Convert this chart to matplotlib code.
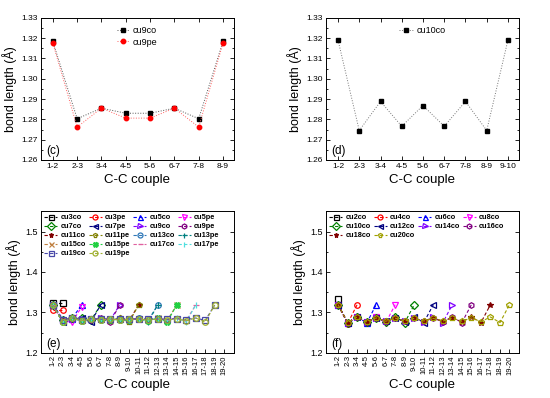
import numpy as np
import matplotlib
matplotlib.use("Agg")
import matplotlib.pyplot as plt
from matplotlib.ticker import MultipleLocator, FormatStrFormatter

plt.rcParams['font.family'] = ['Liberation Sans', 'DejaVu Sans']

# ---------------- data ----------------
# panel (c): cu9 chain, 8 bonds
couples_c = ["1-2", "2-3", "3-4", "4-5", "5-6", "6-7", "7-8", "8-9"]
cu9co_c = [1.3183, 1.2803, 1.2855, 1.2830, 1.2830, 1.2855, 1.2803, 1.3183]
cu9pe_c = [1.3175, 1.2762, 1.2855, 1.2806, 1.2806, 1.2855, 1.2762, 1.3175]

# panel (d): cu10co, 9 bonds
couples_d = ["1-2", "2-3", "3-4", "4-5", "5-6", "6-7", "7-8", "8-9", "9-10"]
cu10co_d = [1.3190, 1.2745, 1.2888, 1.2766, 1.2868, 1.2766, 1.2888, 1.2745, 1.3190]

# panels (e) and (f): all chains
couples_ef = ["1-2", "2-3", "3-4", "4-5", "5-6", "6-7", "7-8", "8-9", "9-10",
              "10-11", "11-12", "12-13", "13-14", "14-15", "15-16", "16-17",
              "17-18", "18-19", "19-20"]

cu3co = [1.322, 1.322]
cu3pe = [1.306, 1.306]
cu5co = [1.319, 1.284, 1.284, 1.319]
cu5pe = [1.316, 1.278, 1.276, 1.313]
cu7co = [1.318, 1.281, 1.285, 1.285, 1.281, 1.318]
cu7pe = [1.318, 1.277, 1.285, 1.285, 1.277, 1.318]
cu9co = [1.3183, 1.2803, 1.2855, 1.2830, 1.2830, 1.2855, 1.2803, 1.3183]
cu9pe = [1.3175, 1.2762, 1.2855, 1.2806, 1.2806, 1.2855, 1.2762, 1.3175]
cu11co = [1.318, 1.280, 1.286, 1.282, 1.284, 1.284, 1.282, 1.286, 1.280, 1.318]
cu11pe = [1.318, 1.276, 1.286, 1.279, 1.283, 1.283, 1.279, 1.286, 1.276, 1.318]
cu13co = [1.318, 1.280, 1.286, 1.282, 1.284, 1.283, 1.283, 1.284, 1.282, 1.286,
          1.280, 1.318]
cu13pe = [1.318, 1.276, 1.286, 1.279, 1.284, 1.281, 1.281, 1.284, 1.279, 1.286,
          1.276, 1.318]
cu15co = [1.318, 1.280, 1.286, 1.282, 1.284, 1.283, 1.2835, 1.2835, 1.283, 1.284,
          1.282, 1.286, 1.280, 1.318]
cu15pe = [1.318, 1.276, 1.286, 1.279, 1.284, 1.281, 1.282, 1.282, 1.281, 1.284,
          1.279, 1.286, 1.276, 1.318]
cu17co = [1.318, 1.280, 1.286, 1.282, 1.284, 1.283, 1.2835, 1.2833, 1.2833, 1.2835,
          1.283, 1.284, 1.282, 1.286, 1.280, 1.318]
cu17pe = [1.318, 1.276, 1.286, 1.279, 1.284, 1.281, 1.283, 1.2815, 1.2815, 1.283,
          1.281, 1.284, 1.279, 1.286, 1.276, 1.318]
cu19co = [1.318, 1.280, 1.286, 1.282, 1.284, 1.283, 1.2835, 1.2833, 1.2834, 1.2834,
          1.2833, 1.2835, 1.283, 1.284, 1.282, 1.286, 1.280, 1.318]
cu19pe = [1.318, 1.276, 1.286, 1.279, 1.284, 1.281, 1.283, 1.2815, 1.2825, 1.2825,
          1.2815, 1.283, 1.281, 1.284, 1.279, 1.286, 1.276, 1.318]

cu2co = [1.332]
cu4co = [1.319, 1.272, 1.319]
cu6co = [1.319, 1.273, 1.290, 1.273, 1.319]
cu8co = [1.319, 1.274, 1.289, 1.275, 1.289, 1.274, 1.319]
cu10co = [1.319, 1.2745, 1.2888, 1.2766, 1.2868, 1.2766, 1.2888, 1.2745, 1.319]
cu12co = [1.319, 1.2745, 1.2885, 1.2768, 1.2865, 1.2775, 1.2865, 1.2768, 1.2885,
          1.2745, 1.319]
cu14co = [1.319, 1.2745, 1.2885, 1.2768, 1.2863, 1.2778, 1.2858, 1.2778, 1.2863,
          1.2768, 1.2885, 1.2745, 1.319]
cu16co = [1.319, 1.2745, 1.2885, 1.2768, 1.2862, 1.2779, 1.2855, 1.2782, 1.2855,
          1.2779, 1.2862, 1.2768, 1.2885, 1.2745, 1.319]
cu18co = [1.319, 1.2745, 1.2885, 1.2768, 1.2862, 1.2779, 1.2855, 1.2783, 1.2852,
          1.2783, 1.2855, 1.2779, 1.2862, 1.2768, 1.2885, 1.2745, 1.319]
cu20co = [1.319, 1.2745, 1.2885, 1.2768, 1.2862, 1.2779, 1.2855, 1.2783, 1.2852,
          1.2785, 1.2852, 1.2783, 1.2855, 1.2779, 1.2862, 1.2768, 1.2885, 1.2745,
          1.319]

# (label, values, color, marker, filled)
series_e = [
    ("cu3co", cu3co, "#000000", "s", False),
    ("cu3pe", cu3pe, "#ff0000", "o", False),
    ("cu5co", cu5co, "#0000ff", "^", False),
    ("cu5pe", cu5pe, "#ff00ff", "v", False),
    ("cu7co", cu7co, "#008000", "D", False),
    ("cu7pe", cu7pe, "#000080", "<", False),
    ("cu9co", cu9co, "#8000ff", ">", False),
    ("cu9pe", cu9pe, "#800080", "h", False),
    ("cu11co", cu11co, "#800000", "*", True),
    ("cu11pe", cu11pe, "#808000", "p", False),
    ("cu13co", cu13co, "#2f78b8", "o", False),
    ("cu13pe", cu13pe, "#008080", "+", True),
    ("cu15co", cu15co, "#c08040", "x", True),
    ("cu15pe", cu15pe, "#20d040", "X", True),
    ("cu17co", cu17co, "#e060a0", "_", True),
    ("cu17pe", cu17pe, "#50dede", "|", True),
    ("cu19co", cu19co, "#4848a8", "s", False),
    ("cu19pe", cu19pe, "#a0b030", "o", False),
]
series_f = [
    ("cu2co", cu2co, "#000000", "s", False),
    ("cu4co", cu4co, "#ff0000", "o", False),
    ("cu6co", cu6co, "#0000ff", "^", False),
    ("cu8co", cu8co, "#ff00ff", "v", False),
    ("cu10co", cu10co, "#008000", "D", False),
    ("cu12co", cu12co, "#000080", "<", False),
    ("cu14co", cu14co, "#8000ff", ">", False),
    ("cu16co", cu16co, "#800080", "h", False),
    ("cu18co", cu18co, "#800000", "*", True),
    ("cu20co", cu20co, "#a0a000", "p", False),
]

# ---------------- figure ----------------
fig = plt.figure(figsize=(5.5, 3.98), dpi=100)
W, H = 550.0, 398.0


def make_ax(x0, y0, x1, y1):
    return fig.add_axes([x0 / W, 1 - y1 / H, (x1 - x0) / W, (y1 - y0) / H])


ax_c = make_ax(40.7, 17.7, 233.7, 160.0)
ax_d = make_ax(325.7, 17.7, 519.0, 160.0)
ax_e = make_ax(40.7, 211.0, 233.7, 352.7)
ax_f = make_ax(325.7, 211.0, 519.0, 352.7)


def style(ax):
    ax.tick_params(which="both", direction="in", top=True, right=True,
                   labelsize=6, width=0.6, pad=2)
    ax.tick_params(which="major", length=3)
    ax.tick_params(which="minor", length=1.6)
    for s in ax.spines.values():
        s.set_linewidth(0.7)
    ax.set_ylabel("bond length (Å)", fontsize=9, labelpad=3)
    ax.set_xlabel("C-C couple", fontsize=9.5, labelpad=3)


# (c)
xc = np.arange(len(couples_c))
ax_c.plot(xc, cu9co_c, ls=":", lw=0.7, color="#555555", marker="s", ms=3,
          mfc="black", mec="black", label="cu9co")
ax_c.plot(xc, cu9pe_c, ls=":", lw=0.7, color="#ff6060", marker="o", ms=3.2,
          mfc="red", mec="red", label="cu9pe")
ax_c.set_xticks(xc)
ax_c.set_xticklabels(couples_c)
ax_c.set_xlim(-0.5, len(couples_c) - 0.56)
ax_c.set_ylim(1.26, 1.33)
ax_c.yaxis.set_major_locator(MultipleLocator(0.01))
ax_c.yaxis.set_minor_locator(MultipleLocator(0.005))
ax_c.yaxis.set_major_formatter(FormatStrFormatter("%.2f"))
style(ax_c)
ax_c.legend(loc="upper center", frameon=False, fontsize=6.5, handlelength=1.4,
            handletextpad=0.4, labelspacing=0.3, bbox_to_anchor=(0.5, 1.0))
ax_c.text(0.03, 0.04, "(c)", transform=ax_c.transAxes, fontsize=8.5)

# (d)
xd = np.arange(len(couples_d))
ax_d.plot(xd, cu10co_d, ls=":", lw=0.7, color="#777777", marker="s", ms=3.3,
          mfc="black", mec="black", label="cu10co")
ax_d.set_xticks(xd)
ax_d.set_xticklabels(couples_d)
ax_d.set_xlim(-0.58, len(couples_d) - 0.48)
ax_d.set_ylim(1.26, 1.33)
ax_d.yaxis.set_major_locator(MultipleLocator(0.01))
ax_d.yaxis.set_minor_locator(MultipleLocator(0.005))
ax_d.yaxis.set_major_formatter(FormatStrFormatter("%.2f"))
style(ax_d)
ax_d.legend(loc="upper center", frameon=False, fontsize=6.5, handlelength=1.6,
            handletextpad=0.4, bbox_to_anchor=(0.5, 1.0))
ax_d.text(0.03, 0.04, "(d)", transform=ax_d.transAxes, fontsize=8.5)


def draw_many(ax, series, tag):
    handles = []
    for name, vals, col, mk, filled in series:
        x = np.arange(len(vals))
        h, = ax.plot(x, vals, ls=(0, (3, 2)), lw=0.8, color=col, marker=mk,
                     ms=4, mew=0.9, mec=col,
                     mfc=col if filled else "none", label=name)
        handles.append(h)
    xe = np.arange(len(couples_ef))
    ax.set_xticks(xe)
    ax.set_xticklabels(couples_ef, rotation=90, fontsize=5.5)
    ax.set_xlim(-1.3, len(couples_ef))
    ax.set_ylim(1.2, 1.551)
    ax.yaxis.set_major_locator(MultipleLocator(0.1))
    ax.yaxis.set_minor_locator(MultipleLocator(0.05))
    style(ax)
    ax.tick_params(axis="x", which="both", top=False, labelsize=5.5)
    ax.tick_params(axis="y", labelsize=6.5)
    # row-major legend order
    ncol = 4
    order = []
    for c in range(ncol):
        order += list(range(c, len(handles), ncol))
    ax.legend([handles[i] for i in order],
              [handles[i].get_label() for i in order],
              loc="upper left", ncol=ncol, frameon=False,
              prop={"size": 5.3, "weight": "bold"}, handlelength=1.8,
              handletextpad=0.45, columnspacing=0.35, labelspacing=0.25,
              borderaxespad=0.3, borderpad=0.15, markerscale=0.9)
    ax.text(0.03, 0.04, tag, transform=ax.transAxes, fontsize=8.5)


draw_many(ax_e, series_e, "(e)")
draw_many(ax_f, series_f, "(f)")

fig.savefig("out.png", dpi=100)
